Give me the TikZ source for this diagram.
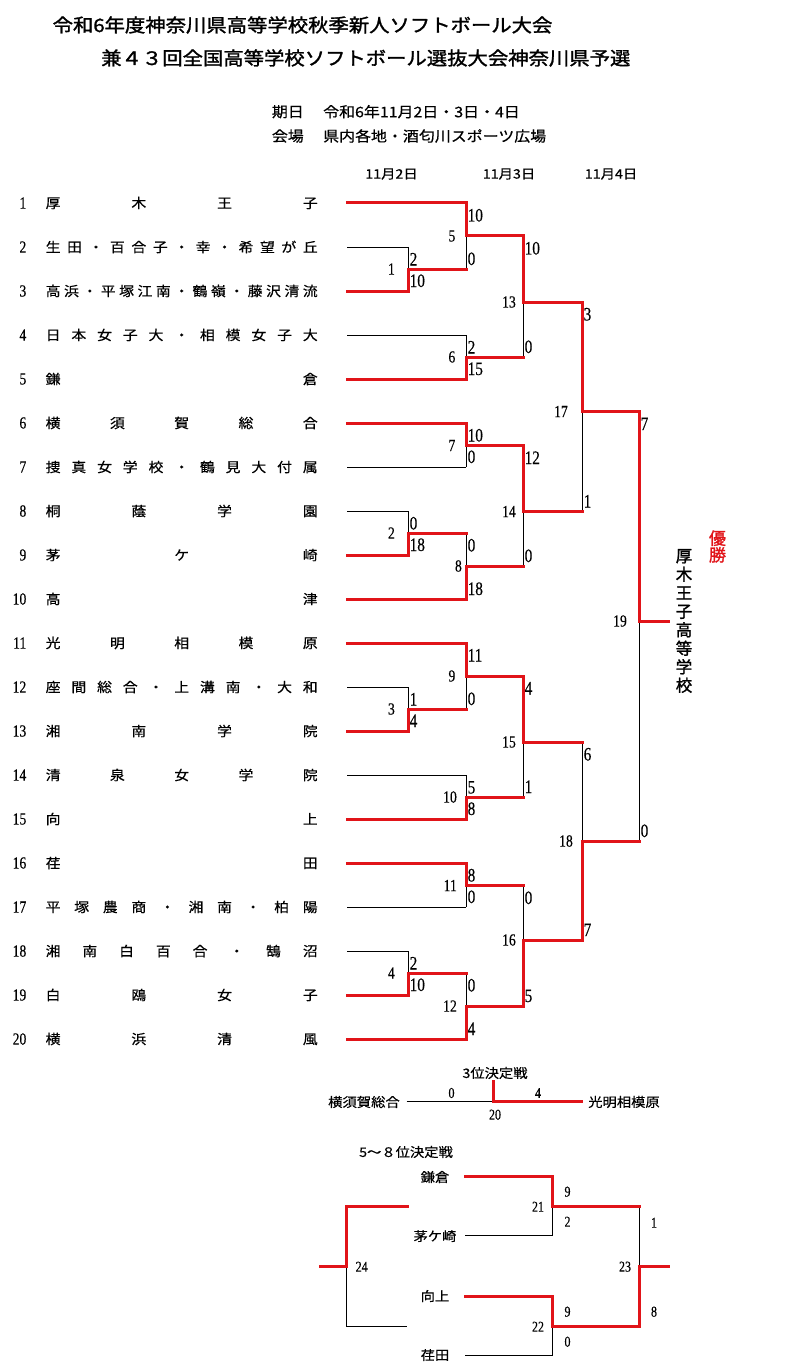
\documentclass[tikz,border=0pt]{standalone}
\usepackage{fontspec}
\newfontfamily\jp[FakeStretch=1.1,FakeBold=0.5]{Noto Sans CJK JP}
\newfontfamily\jpb[FakeStretch=1.1,FakeBold=1.5]{Noto Sans CJK JP}
\newfontfamily\jpv[FakeBold=1.2]{Noto Sans CJK JP}
\newfontfamily\numf[FakeStretch=0.8,FakeBold=0.3]{Liberation Serif}
\definecolor{winred}{RGB}{225,20,25}
\begin{document}
\begin{tikzpicture}[x=1pt,y=-1pt,
  win/.style={draw=winred,line width=3pt,line cap=rect,line join=miter},
  lose/.style={draw=black,line width=0.9pt},
  tname/.style={anchor=west,inner sep=0pt,font=\jp\fontsize{13.5}{13.5}\selectfont},
  tnum/.style={anchor=east,inner sep=0pt,font=\numf\fontsize{17}{17}\selectfont},
  score/.style={anchor=base west,inner sep=0pt,font=\numf\fontsize{19}{19}\selectfont},
  mlab/.style={anchor=east,inner sep=0pt,font=\numf\fontsize{17}{17}\selectfont},
  snum/.style={inner sep=0pt,font=\numf\fontsize{15}{15}\selectfont},
  jtext/.style={inner sep=0pt,font=\jp\fontsize{14.5}{14.5}\selectfont},
  dtext/.style={inner sep=0pt,font=\jp\fontsize{13}{13}\selectfont},
  btext/.style={inner sep=0pt,font=\jp\fontsize{13}{13}\selectfont},
  ttext/.style={inner sep=0pt,font=\jpb\fontsize{18.5}{18.5}\selectfont}]
\fill[white] (0,0) rectangle (807,1372);
\useasboundingbox (0,0) rectangle (807,1372);
% header
\node[ttext] (title1) at (302.5,25) {令和6年度神奈川県高等学校秋季新人ソフトボール大会};
\node[ttext] (title2) at (365.8,58) {兼４３回全国高等学校ソフトボール選抜大会神奈川県予選};
\node[jtext,anchor=west] (kijitsu) at (271.7,111.7) {期日};
\node[jtext,anchor=west] (date) at (323,111.7) {令和6年11月2日・3日・4日};
\node[jtext,anchor=west] (kaijo) at (271.7,136) {会場};
\node[jtext,anchor=west] (venue) at (323,136) {県内各地・酒匂川スポーツ広場};
\node[dtext] (d1) at (391.5,174) {11月2日};
\node[dtext] (d2) at (509,174) {11月3日};
\node[dtext] (d3) at (611,174) {11月4日};
% teams
\foreach \i/\nm in {1/{厚 木 王 子},2/{生 田 ・ 百 合 子 ・ 幸 ・ 希 望 が 丘},
  3/{高 浜 ・ 平 塚 江 南 ・ 鶴 嶺 ・ 藤 沢 清 流},4/{日 本 女 子 大 ・ 相 模 女 子 大},
  5/{鎌 倉},6/{横 須 賀 総 合},7/{捜 真 女 学 校 ・ 鶴 見 大 付 属},8/{桐 蔭 学 園},
  9/{茅 ケ 崎},10/{高 津},11/{光 明 相 模 原},12/{座 間 総 合 ・ 上 溝 南 ・ 大 和},
  13/{湘 南 学 院},14/{清 泉 女 学 院},15/{向 上},16/{荏 田},
  17/{平 塚 農 商 ・ 湘 南 ・ 柏 陽},18/{湘 南 白 百 合 ・ 鵠 沼},19/{白 鴎 女 子},20/{横 浜 清 風}}
{
  \coordinate (s\i) at (347,{203+44*(\i-1)});
  \node[tnum] (k\i) at (26.5,{203+44*(\i-1)}) {\i};
  \node[tname] (n\i) at (45.5,{203+44*(\i-1)}) {\makebox[272pt][s]{\nm}};
}
% matches
\foreach \m/\x/\t/\o/\b/\ts/\bs/\lx in {
  1/408/247/269/291/2/10/395,
  2/408/511/533/555/0/18/395,
  3/408/687/709/731/1/4/395,
  4/408/951/973/995/2/10/395,
  5/466/203/236/269/10/0/455.5,
  6/466/335/357/379/2/15/455.5,
  7/466/423/445.5/467/10/0/455.5,
  8/466/533/566/599/0/18/462,
  9/466/643/676/709/11/0/455.5,
  10/466/775/797/819/5/8/457,
  11/466/863/885.5/907/8/0/457,
  12/466/973/1006/1039/0/4/457,
  13/523/236/302/357/10/0/516,
  14/523/445.5/511.5/566/12/0/516,
  15/523/676/742/797/4/1/516,
  16/523/885.5/940/1006/0/5/516,
  17/582/302/411.5/511.5/3/1/568,
  18/582/742/841/940/6/7/573,
  19/639/411.5/621/841/7/0/627}
{
  \coordinate (m\m t) at (\x,\t);
  \coordinate (m\m o) at (\x,\o);
  \coordinate (m\m b) at (\x,\b);
  \node[score] (sc\m t) at (\x+1.5,\t+18.5) {\ts};
  \node[score] (sc\m b) at (\x+1.5,\b-4) {\bs};
  \node[mlab] (lb\m) at (\lx,\o) {\m};
}
\coordinate (champ) at (668,621);
% losing lines
\foreach \i/\tg in {2/m1t,4/m6t,7/m7b,8/m2t,12/m3t,14/m10t,17/m11b,18/m4t}
  \draw[lose] (s\i) -- (s\i -| \tg);
\foreach \m/\l in {1/t,2/t,3/t,4/t,5/b,6/t,7/b,8/t,9/b,10/t,11/b,12/t,13/b,14/b,15/b,16/t,17/b,18/t,19/b}
  \draw[lose] (m\m\l) -- (m\m o);
% winning lines
\foreach \i/\tg in {1/m5t,3/m1b,5/m6b,6/m7t,9/m2b,10/m8b,11/m9t,13/m3b,15/m10b,16/m11t,19/m4b,20/m12b}
  \draw[win] (s\i) -- (s\i -| \tg);
\foreach \m/\w/\nx in {1/b/m5b,2/b/m8t,3/b/m9b,4/b/m12t,5/t/m13t,6/b/m13b,7/t/m14t,8/b/m14b,
  9/t/m15t,10/b/m15b,11/t/m16t,12/b/m16b,13/t/m17t,14/t/m17b,15/t/m18t,16/b/m18b,17/t/m19t,18/b/m19b,19/t/champ}
  \draw[win] (m\m\w) -- (m\m o) -- (\nx);
% champion
\node[font=\jpv\fontsize{16.5}{18.5}\selectfont,align=center,inner sep=0pt] (champname) at (684,621)
  {厚\\木\\王\\子\\高\\等\\学\\校};
\node[text=winred,font=\jpv\fontsize{17}{16.7}\selectfont,align=center,inner sep=0pt] (yusho) at (717.5,546.5)
  {優\\勝};
% third place
\node[btext] (third) at (495,1073) {3位決定戦};
\node[btext] (tA) at (364,1102) {横須賀総合};
\node[btext] (tB) at (624,1102) {光明相模原};
\coordinate (p3a) at (406.7,1101.7);
\coordinate (p3m) at (493.3,1101.7);
\coordinate (p3up) at (493.3,1081.7);
\coordinate (p3c) at (581.7,1101.7);
\draw[lose] (p3a) -- (p3m);
\draw[win] (p3up) -- (p3m) -- (p3c);
\node[snum] (p3s1) at (451.5,1093) {0};
\node[snum] (p3s2) at (538,1093) {4};
\node[snum] (p3l) at (495,1114.7) {20};
% 5-8
\node[btext] (fifth) at (406,1152) {5～８位決定戦};
\node[btext] (q1) at (435,1177) {鎌倉};
\node[btext] (q2) at (435,1236) {茅ケ崎};
\node[btext] (q3) at (435,1296) {向上};
\node[btext] (q4) at (435,1355) {荏田};
\coordinate (q1s) at (465,1176);
\coordinate (q2s) at (465,1235.7);
\coordinate (q3s) at (465,1296);
\coordinate (q4s) at (465,1355.7);
\coordinate (q21t) at (552.3,1176);
\coordinate (q21o) at (552.3,1206);
\coordinate (q21b) at (552.3,1235.7);
\coordinate (q22t) at (552.3,1296);
\coordinate (q22o) at (552.3,1326);
\coordinate (q22b) at (552.3,1355.7);
\coordinate (q23t) at (639.3,1206);
\coordinate (q23o) at (639.3,1266);
\coordinate (q23b) at (639.3,1326);
\coordinate (q23e) at (668.3,1266);
\coordinate (q24t) at (346.7,1206);
\coordinate (q24o) at (346.7,1266);
\coordinate (q24b) at (346.7,1326);
\coordinate (q24te) at (407.3,1206);
\coordinate (q24be) at (407.3,1326);
\coordinate (q24e) at (320.7,1266);
\draw[lose] (q2s) -- (q21b) -- (q21o);
\draw[lose] (q4s) -- (q22b) -- (q22o);
\draw[lose] (q23t) -- (q23o);
\draw[lose] (q24o) -- (q24b) -- (q24be);
\draw[win] (q1s) -- (q21t) -- (q21o) -- (q23t);
\draw[win] (q3s) -- (q22t) -- (q22o) -- (q23b);
\draw[win] (q23b) -- (q23o) -- (q23e);
\draw[win] (q24te) -- (q24t) -- (q24o) -- (q24e);
\node[snum] (r21a) at (567.5,1191.7) {9};
\node[snum] (r21) at (538,1206.7) {21};
\node[snum] (r21b) at (567.5,1221.7) {2};
\node[snum] (r22a) at (567.5,1311.7) {9};
\node[snum] (r22) at (538,1326.7) {22};
\node[snum] (r22b) at (567.5,1341.7) {0};
\node[snum] (r23a) at (654,1222.7) {1};
\node[snum] (r23) at (625,1266.7) {23};
\node[snum] (r23b) at (654,1311.7) {8};
\node[snum] (r24) at (361.7,1266.7) {24};
\end{tikzpicture}
\end{document}
